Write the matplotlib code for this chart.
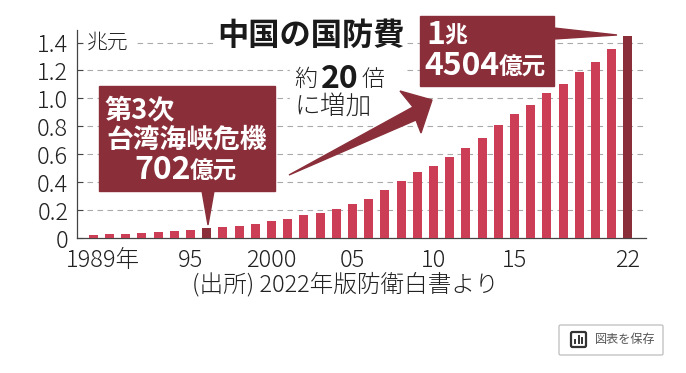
import matplotlib
matplotlib.use("Agg")
import matplotlib.pyplot as plt
from matplotlib.patches import Polygon, Rectangle, FancyBboxPatch

plt.rcParams["font.family"] = ["Noto Sans CJK JP", "DejaVu Sans"]

# data (trillion yuan)
years = list(range(1989, 2023))
values = [0.0215, 0.026, 0.031, 0.033, 0.043, 0.05, 0.06, 0.0702, 0.081, 0.088,
          0.103, 0.12, 0.138, 0.167, 0.181, 0.208, 0.246, 0.279, 0.346, 0.41,
          0.47, 0.518, 0.58, 0.647, 0.719, 0.807, 0.89, 0.95, 1.041, 1.105,
          1.187, 1.263, 1.351, 1.4504]
highlight = [1996, 2022]
y_ticks = [0, 0.2, 0.4, 0.6, 0.8, 1.0, 1.2, 1.4]
y_labels = ["0", "0.2", "0.4", "0.6", "0.8", "1.0", "1.2", "1.4"]
x_ticks = [1989.6, 1995, 2000, 2005, 2010, 2015, 2022]
x_labels = ["1989年", "95", "2000", "05", "10", "15", "22"]

W, H = 686, 373
RED = "#cb3e56"
DARK = "#8a2f3a"
GRID = "#a9a9a9"
INK = "#222222"

fig = plt.figure(figsize=(W / 100, H / 100), dpi=100, facecolor="white")

# main axes, placed by pixels
left, right, top, bottom = 76.7, 646, 30, 238
ax = fig.add_axes([left / W, 1 - bottom / H, (right - left) / W, (bottom - top) / H])
ax.set_xlim(1989 - 16.6 / 16.2, 1989 + (646 - 93.3) / 16.2)
ax.set_ylim(0, (bottom - top) / 139.6)
colors = [DARK if y in highlight else RED for y in years]
ax.bar(years, values, width=0.56, color=colors, zorder=3)
ax.set_yticks(y_ticks)
ax.set_yticklabels(y_labels, fontsize=17, color=INK, fontweight="light")
ax.set_xticks(x_ticks)
ax.set_xticklabels(x_labels, fontsize=17, color=INK, fontweight="light")
ax.tick_params(axis="x", length=0, pad=7)
ax.tick_params(axis="y", length=4, width=0.8, color="#444444", direction="in", pad=6)
for y in y_ticks[1:]:
    ax.axhline(y, color=GRID, lw=0.8, ls=(0, (5, 4)), zorder=1)
for s in ["top", "right"]:
    ax.spines[s].set_visible(False)
for s in ["left", "bottom"]:
    ax.spines[s].set_color("#444444")
    ax.spines[s].set_linewidth(0.9)

# overlay in pixel coordinates for the labels and callouts
ov = fig.add_axes([0, 0, 1, 1], zorder=5)
ov.set_xlim(0, W)
ov.set_ylim(H, 0)
ov.axis("off")


def label(x, y, s, size, color=INK, weight="normal", ha="left"):
    ov.text(x, y, s, fontsize=size, color=color, fontweight=weight, ha=ha, va="center", zorder=4)


ov.add_patch(Rectangle((84, 30), 52, 24, color="white", zorder=0))
label(87, 43, "兆元", 15, weight="light")
ov.add_patch(Rectangle((214, 20), 192, 32, color="white", zorder=0))
label(217, 36, "中国の国防費", 22.5, color="#1a1a1a", weight="bold")

# 20 times note
ov.add_patch(Rectangle((290, 62), 112, 62, color="white", zorder=0))
label(294, 79, "約", 16.5, weight="light")
label(321, 79, "20", 23, color="#1a1a1a", weight="bold")
label(362, 79, "倍", 16.5, weight="light")
label(295, 107, "に増加", 18.5, weight="light")

# arrow
ov.add_patch(Polygon([(289, 175), (413, 107), (400, 91), (432, 100), (421, 133), (416, 120)],
                     closed=True, color=DARK, zorder=3))

# 1996 callout
ov.add_patch(Rectangle((99, 86), 176, 105, color=DARK, zorder=3))
ov.add_patch(Polygon([(202, 191), (214, 191), (208, 225)], closed=True, color=DARK, zorder=3))
label(105, 110, "第3次", 19.5, color="white", weight="bold")
label(187, 140, "台湾海峡危機", 19.3, color="white", weight="bold", ha="center")
label(134, 170, "702", 23, color="white", weight="bold")
label(190, 172, "億元", 17, color="white", weight="bold")

# 2022 callout
ov.add_patch(Rectangle((420, 16), 134, 70, color=DARK, zorder=3))
ov.add_patch(Polygon([(554, 28), (554, 39), (617, 35)], closed=True, color=DARK, zorder=3))
label(426, 35, "1", 23, color="white", weight="bold")
label(444, 36, "兆", 16.5, color="white", weight="bold")
label(424, 66, "4504", 23, color="white", weight="bold")
label(499, 68, "億元", 17, color="white", weight="bold")

# source
label(192, 285, "(出所) 2022年版防衛白書より", 17, weight="light")

# save button
ov.add_patch(FancyBboxPatch((559, 325), 104, 30, boxstyle="round,pad=0,rounding_size=1.5",
                            fc="white", ec="#bdbdbd", lw=0.9))
ov.add_patch(FancyBboxPatch((571, 332), 15, 15, boxstyle="round,pad=0,rounding_size=1.5",
                            fc="white", ec="#333333", lw=1.6))
ov.plot([575, 575], [343, 340], color="#333333", lw=1.4)
ov.plot([578.5, 578.5], [343, 336], color="#333333", lw=1.4)
ov.plot([582, 582], [343, 338], color="#333333", lw=1.4)
label(595, 340, "図表を保存", 8.7, color="#555555")

fig.savefig("out.png", dpi=100)
